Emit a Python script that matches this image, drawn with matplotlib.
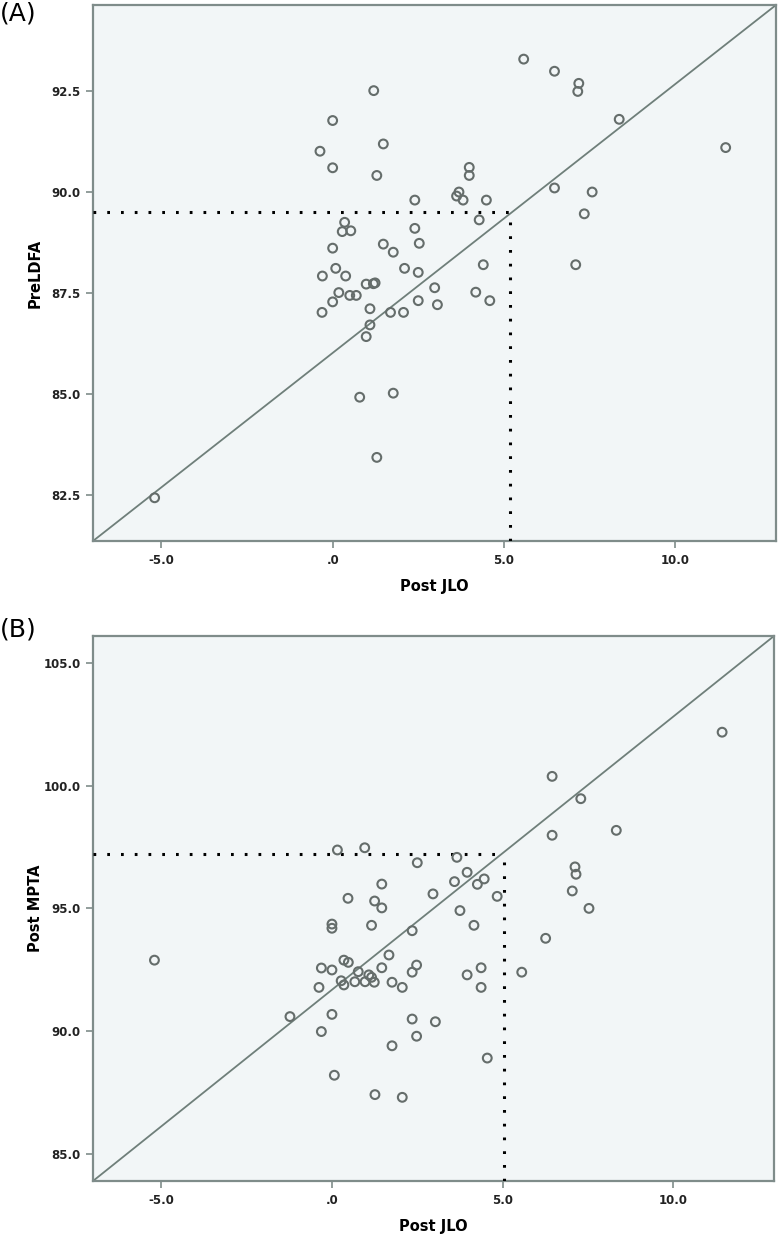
import numpy as np
import matplotlib
matplotlib.use('Agg')
import matplotlib.pyplot as plt

# panel A: Post JLO vs PreLDFA
a_x = [1.2, 0.0, 1.48, -0.37, 0.0, 1.29, 2.40, 0.35, 0.28, 0.53, 2.40, 2.53, 1.48, 1.77, 0.0,
       2.10, 2.50, 0.09, -0.30, 0.38, 0.98, 1.19, 1.24, 0.18, 0.5, 0.69, 2.98, -0.31, 0.0, 1.09,
       1.09, 0.98, 1.69, 2.07, 2.50, 3.06, 0.79, 1.77, 1.29, -5.20, 5.58, 6.48, 7.19, 7.16, 8.37,
       11.48, 3.99, 3.99, 6.48, 7.58, 3.69, 3.62, 3.81, 4.49, 4.28, 7.35, 4.40, 7.10, 4.18, 4.59]
a_y = [92.5, 91.76, 91.18, 91.0, 90.59, 90.40, 89.79, 89.24, 89.01, 89.03, 89.09, 88.72, 88.70, 88.50, 88.60,
       88.10, 88.0, 88.10, 87.91, 87.91, 87.71, 87.72, 87.74, 87.5, 87.43, 87.43, 87.62, 87.01, 87.27, 87.10,
       86.70, 86.41, 87.01, 87.01, 87.30, 87.20, 84.91, 85.01, 83.42, 82.42, 93.28, 92.98, 92.68, 92.48, 91.79,
       91.09, 90.60, 90.40, 90.09, 89.99, 89.99, 89.89, 89.79, 89.79, 89.30, 89.45, 88.19, 88.19, 87.51, 87.30]

# panel B: Post JLO vs Post MPTA
b_x = [0.16, 0.96, 2.50, 1.46, 0.47, 1.25, 1.46, 2.96, 0.0, 0.0, 1.16, 2.35, -5.20, 1.67, 0.35,
       0.48, -0.31, 0.0, 0.77, 1.08, 1.16, 1.46, 2.48, 2.35, 0.27, 0.35, 0.67, 0.97, 1.24, 1.76,
       2.06, -0.38, -1.23, 0.0, -0.31, 2.35, 3.03, 2.48, 1.76, 0.07, 1.26, 2.06, 11.43, 6.45, 7.29,
       8.33, 6.45, 3.66, 3.96, 3.59, 4.26, 4.46, 4.84, 7.12, 7.15, 7.04, 7.53, 3.75, 4.16, 6.26,
       3.96, 4.37, 4.37, 5.56, 4.55]
b_y = [97.38, 97.47, 96.86, 95.99, 95.41, 95.30, 95.02, 95.59, 94.36, 94.19, 94.31, 94.09, 92.89, 93.10, 92.89,
       92.80, 92.57, 92.49, 92.42, 92.29, 92.19, 92.58, 92.69, 92.40, 92.05, 91.88, 92.01, 92.01, 91.99, 91.99,
       91.78, 91.78, 90.59, 90.68, 89.98, 90.49, 90.38, 89.79, 89.40, 88.20, 87.41, 87.30, 102.18, 100.38, 99.47,
       98.18, 97.98, 97.08, 96.47, 96.09, 95.98, 96.20, 95.49, 96.69, 96.39, 95.71, 95.0, 94.91, 94.31, 93.78,
       92.29, 92.58, 91.78, 92.40, 88.90]

xlim = (-7.0, 12.95)
a_ylim = (81.35, 94.62)
b_ylim = (83.89, 106.1)
a_cut = (5.18, 89.5)
b_cut = (5.05, 97.2)
a_yticks = [82.5, 85.0, 87.5, 90.0, 92.5]
b_yticks = [85.0, 90.0, 95.0, 100.0, 105.0]
xticks = [-5.0, 0.0, 5.0, 10.0]
xtick_labels = ['-5.0', '.0', '5.0', '10.0']

bg = '#f2f6f7'
frame = '#7f8c8a'
mark = '#656d6b'
linec = '#6f7f7a'

fig = plt.figure(figsize=(7.8, 12.35), dpi=100)
axA = fig.add_axes([93/780, 1-541/1235, 683/780, 536/1235])
axB = fig.add_axes([93/780, 1-1181/1235, 681/780, 545/1235])


def panel(ax, xs, ys, ylim, yticks, cut, ylabel):
    ax.set_facecolor(bg)
    ax.set_xlim(xlim)
    ax.set_ylim(ylim)
    # reference line corner to corner
    ax.plot(xlim, ylim, color=linec, lw=1.3, zorder=2)
    ax.plot([xlim[0], cut[0]], [cut[1], cut[1]], color='black', lw=2.2,
            linestyle=(0, (0.9, 3.6)), zorder=3)
    ax.plot([cut[0], cut[0]], [ylim[0], cut[1]], color='black', lw=2.2,
            linestyle=(0, (0.9, 3.6)), zorder=3)
    ax.scatter(xs, ys, s=40, facecolors='none', edgecolors=mark, linewidths=1.5, zorder=4)
    ax.set_xticks(xticks)
    ax.set_xticklabels(xtick_labels)
    ax.set_yticks(yticks)
    ax.set_yticklabels(['%.1f' % v for v in yticks])
    for s in ax.spines.values():
        s.set_color(frame)
        s.set_linewidth(1.6)
    ax.tick_params(direction='out', length=5, width=1.2, color=frame,
                   labelsize=8.5, labelcolor='#222222', pad=4)
    for t in ax.get_xticklabels() + ax.get_yticklabels():
        t.set_fontweight('bold')
    ax.set_xlabel('Post JLO', fontsize=10.5, fontweight='bold', labelpad=9)
    ax.set_ylabel(ylabel, fontsize=10.5, fontweight='bold')


panel(axA, a_x, a_y, a_ylim, a_yticks, a_cut, 'PreLDFA')
panel(axB, b_x, b_y, b_ylim, b_yticks, b_cut, 'Post MPTA')
axA.yaxis.set_label_coords(-50/683, 0.5)
axB.yaxis.set_label_coords(-50/681, 0.5)

fig.text(0.0, 1-1/1235, '(A)', fontsize=18, va='top', ha='left')
fig.text(0.0, 1-617/1235, '(B)', fontsize=18, va='top', ha='left')

fig.savefig('out.png', dpi=100, facecolor='white')
